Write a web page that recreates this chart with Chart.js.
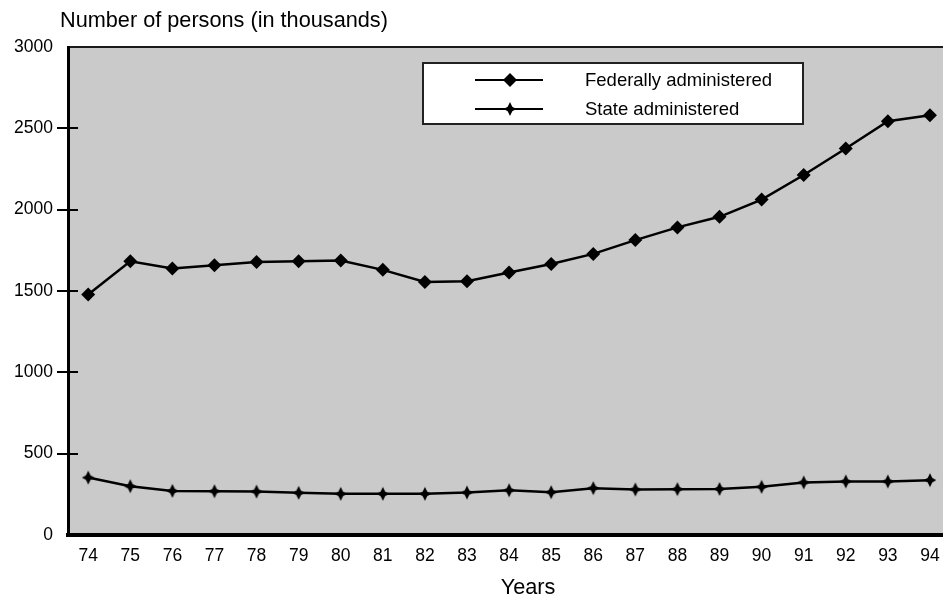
<!DOCTYPE html>
<html><head><meta charset="utf-8">
<script src="https://cdn.jsdelivr.net/npm/chart.js@4.4.0/dist/chart.umd.min.js"></script>
<style>html,body{margin:0;padding:0;background:#fff;overflow:hidden}#wrap{width:943px;height:597px;position:relative}</style>
</head><body><div id="wrap"><canvas id="c" width="943" height="597"></canvas></div>
<script>
const years = [74,75,76,77,78,79,80,81,82,83,84,85,86,87,88,89,90,91,92,93,94];
const yearLabels = ['74','75','76','77','78','79','80','81','82','83','84','85','86','87','88','89','90','91','92','93','94'];
const federal = [1479,1683,1638,1658,1679,1683,1687,1630,1556,1560,1614,1666,1728,1813,1891,1956,2062,2213,2376,2544,2581];
const state = [353,300,271,269,267,259,253,253,253,261,275,263,288,280,282,283,296,323,329,329,337];
const yTicks = [0,500,1000,1500,2000,2500,3000];
const yTickLabels = ['0','500','1000','1500','2000','2500','3000'];
const yMarkTicks = [500,1000,1500,2000,2500];
const seriesNames = ['Federally administered','State administered'];
const yTitle = 'Number of persons (in thousands)';
const xTitle = 'Years';

const FONT = '"Liberation Sans", Arial, sans-serif';

function makeStar(r){
  const s = Math.ceil(2*r+2);
  const c = document.createElement('canvas'); c.width = s; c.height = s;
  const g = c.getContext('2d'); const cx = s/2, cy = s/2, w = r*0.33;
  g.fillStyle = '#000'; g.beginPath();
  g.moveTo(cx, cy-r); g.lineTo(cx+w, cy-w); g.lineTo(cx+r*0.9, cy); g.lineTo(cx+w, cy+w);
  g.lineTo(cx, cy+r); g.lineTo(cx-w, cy+w); g.lineTo(cx-r*0.9, cy); g.lineTo(cx-w, cy-w);
  g.closePath(); g.fill();
  return c;
}
const starImg = makeStar(7);

const decor = {
  id: 'decor',
  beforeDraw(chart){
    const {ctx, chartArea: a} = chart;
    ctx.save();
    ctx.fillStyle = '#cacaca';
    ctx.fillRect(a.left, a.top, a.right - a.left, a.bottom - a.top);
    ctx.strokeStyle = '#1a1a1a'; ctx.lineWidth = 2;
    ctx.beginPath(); ctx.moveTo(a.left, a.top); ctx.lineTo(a.right, a.top); ctx.stroke();
    ctx.restore();
  },
  afterDraw(chart){
    const {ctx, chartArea: a} = chart;
    const ys = chart.scales.y;
    ctx.save();
    ctx.strokeStyle = '#000'; ctx.lineWidth = 2;
    yMarkTicks.forEach(v => {
      const y = Math.round(ys.getPixelForValue(v));
      ctx.beginPath(); ctx.moveTo(a.left - 11, y); ctx.lineTo(a.left + 10, y); ctx.stroke();
    });
    // legend
    ctx.fillStyle = '#fff';
    ctx.fillRect(423, 63, 380, 61);
    ctx.strokeStyle = '#222'; ctx.lineWidth = 2;
    ctx.strokeRect(423, 63, 380, 61);
    const rows = [80, 109];
    chart.data.datasets.forEach((ds, i) => {
      const y = rows[i];
      ctx.strokeStyle = '#000'; ctx.lineWidth = 2;
      ctx.beginPath(); ctx.moveTo(475, y); ctx.lineTo(543, y); ctx.stroke();
      if (i === 0) {
        ctx.fillStyle = '#000'; ctx.beginPath();
        ctx.moveTo(510, y-7); ctx.lineTo(517, y); ctx.lineTo(510, y+7); ctx.lineTo(503, y); ctx.closePath(); ctx.fill();
      } else {
        ctx.drawImage(starImg, 510 - starImg.width/2, y - starImg.height/2);
      }
      ctx.fillStyle = '#000'; ctx.font = '18.5px ' + FONT;
      ctx.textBaseline = 'middle'; ctx.textAlign = 'left';
      ctx.fillText(ds.label, 585, y + 1);
    });
    // titles
    ctx.font = '21.7px ' + FONT; ctx.fillStyle = '#000';
    ctx.textBaseline = 'middle'; ctx.textAlign = 'left';
    ctx.fillText(yTitle, 60, 21);
    ctx.textAlign = 'center';
    ctx.fillText(xTitle, 528, 588);
    ctx.restore();
  }
};

new Chart(document.getElementById('c'), {
  type: 'line',
  data: {
    datasets: [
      { label: seriesNames[0], data: years.map((x, i) => ({x, y: federal[i]})),
        borderColor: '#000', borderWidth: 2.5, backgroundColor: '#000',
        pointStyle: 'rectRot', pointRadius: 7, pointBorderWidth: 0, tension: 0 },
      { label: seriesNames[1], data: years.map((x, i) => ({x, y: state[i]})),
        borderColor: '#000', borderWidth: 2.5, backgroundColor: '#000',
        pointStyle: starImg, pointRadius: 7, pointBorderWidth: 0, tension: 0 }
    ]
  },
  options: {
    responsive: false, animation: false, devicePixelRatio: 1,
    layout: { autoPadding: false, padding: { top: 47, right: 0, left: 0, bottom: 0 } },
    plugins: { legend: { display: false }, tooltip: { enabled: false }, title: { display: false } },
    scales: {
      x: {
        type: 'linear', min: 73.52, max: 94.31,
        afterBuildTicks: s => { s.ticks = years.map(v => ({ value: v })); },
        afterFit: s => { s.height = 62; s.paddingRight = 0; s.paddingLeft = 0; },
        grid: { display: false, drawTicks: false },
        border: { display: true, color: '#000', width: 4 },
        ticks: { color: '#000', font: { size: 17.5, family: FONT }, padding: 11, maxRotation: 0, autoSkip: false,
          callback: v => yearLabels[years.indexOf(v)] }
      },
      y: {
        min: 0, max: 3000,
        afterBuildTicks: s => { s.ticks = yTicks.map(v => ({ value: v })); },
        afterFit: s => { s.width = 68; },
        grid: { display: false, drawTicks: false },
        border: { display: true, color: '#000', width: 3 },
        ticks: { color: '#000', font: { size: 17.5, family: FONT }, padding: 15, autoSkip: false,
          callback: v => yTickLabels[yTicks.indexOf(v)] }
      }
    }
  },
  plugins: [decor]
});
</script></body></html>
